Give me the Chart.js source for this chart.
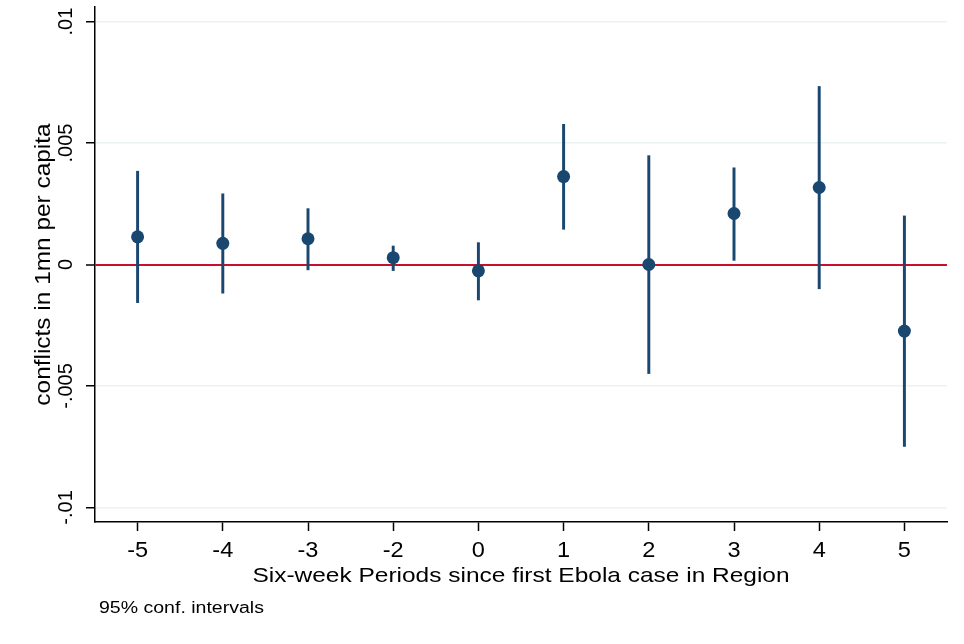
<!DOCTYPE html>
<html><head><meta charset="utf-8">
<script src="https://cdn.jsdelivr.net/npm/chart.js@4/dist/chart.umd.min.js"></script>
<style>html,body{margin:0;padding:0;background:#fff}#wrap{width:964px;height:644px;position:relative}</style>
</head><body><div id="wrap"><canvas id="c" width="964" height="644"></canvas></div>
<script>
const categories = ['-5','-4','-3','-2','0','1','2','3','4','5'];
const estimates  = [0.00114, 0.00087, 0.00106, 0.00028, -0.00026, 0.00362, 0.00000, 0.00210, 0.00317, -0.00274];
const ciLower    = [-0.00157, -0.00118, -0.00022, -0.00025, -0.00146, 0.00145, -0.00449, 0.00017, -0.00100, -0.00749];
const ciUpper    = [0.00384, 0.00291, 0.00230, 0.00076, 0.00090, 0.00577, 0.00448, 0.00398, 0.00733, 0.00200];
const yTickValues = [-0.01, -0.005, 0, 0.005, 0.01];
const yTickLabels = ['-.01', '-.005', '0', '.005', '.01'];
const xTitle = 'Six-week Periods since first Ebola case in Region';
const yTitle = 'conflicts in 1mn per capita';
const noteText = '95% conf. intervals';

const NAVY = '#1a476f';
const RED = '#c8102e';
const GRID = '#eaf2f3';
const FONT = '"Liberation Sans", Arial, Helvetica, sans-serif';

function drawText(ctx, text, x, y, size, stretch, rotated, align, baseline) {
  ctx.save();
  ctx.translate(x, y);
  if (rotated) ctx.rotate(-Math.PI / 2);
  ctx.scale(stretch, 1);
  ctx.font = size + 'px ' + FONT;
  ctx.textAlign = align;
  ctx.textBaseline = baseline;
  ctx.fillStyle = '#000';
  ctx.fillText(text, 0, 0);
  ctx.restore();
}

const textPlugin = {
  id: 'stataText',
  afterDraw(chart) {
    const ctx = chart.ctx;
    const xs = chart.scales.x;
    const ys = chart.scales.y;
    const area = chart.chartArea;
    // y tick labels (rotated)
    yTickValues.forEach((v, i) => {
      drawText(ctx, yTickLabels[i], 71.5, ys.getPixelForValue(v), 20, 1.0, true, 'center', 'alphabetic');
    });
    // y title
    drawText(ctx, yTitle, 50, (area.top + area.bottom) / 2, 22, 1.11, true, 'center', 'alphabetic');
    // x tick labels
    categories.forEach((c, i) => {
      drawText(ctx, c, xs.getPixelForTick(i), 557, 22, 1.07, false, 'center', 'alphabetic');
    });
    // x title
    drawText(ctx, xTitle, (area.left + area.right) / 2, 582, 21, 1.165, false, 'center', 'alphabetic');
    // note
    drawText(ctx, noteText, 99, 612.5, 16, 1.22, false, 'left', 'alphabetic');
  }
};

new Chart(document.getElementById('c'), {
  type: 'bar',
  data: {
    labels: categories,
    datasets: [
      {
        type: 'line',
        data: estimates,
        showLine: false,
        pointRadius: 6.5,
        pointHoverRadius: 6.5,
        pointBackgroundColor: NAVY,
        pointBorderWidth: 0,
        borderColor: NAVY,
        order: 1
      },
      {
        type: 'bar',
        data: categories.map((c, i) => [ciLower[i], ciUpper[i]]),
        backgroundColor: NAVY,
        borderWidth: 0,
        barThickness: 2.3,
        order: 2
      }
    ]
  },
  options: {
    responsive: false,
    animation: false,
    layout: { padding: { top: 7, right: 17, left: 0, bottom: 0 } },
    plugins: { legend: { display: false }, tooltip: { enabled: false } },
    scales: {
      x: {
        type: 'category',
        offset: true,
        grid: { offset: false, drawOnChartArea: false, drawTicks: true, tickLength: 9, tickColor: '#000', tickWidth: 1.5 },
        border: { display: true, color: '#000', width: 1.5 },
        ticks: { display: false, autoSkip: false },
        title: { display: false },
        afterFit(s) { s.height = 122; }
      },
      y: {
        type: 'linear',
        min: -0.0106,
        max: 0.0106,
        afterBuildTicks(s) { s.ticks = yTickValues.map(v => ({ value: v })); },
        grid: {
          drawOnChartArea: true,
          drawTicks: true,
          tickLength: 9,
          tickColor: '#000',
          tickWidth: 1.5,
          color: c => (c.tick && c.tick.value === 0) ? RED : GRID,
          lineWidth: c => (c.tick && c.tick.value === 0) ? 2 : 1.5
        },
        border: { display: true, color: '#000', width: 1.5 },
        ticks: { display: false },
        title: { display: false },
        afterFit(s) { s.width = 95; }
      }
    }
  },
  plugins: [textPlugin]
});
</script>
</body></html>
